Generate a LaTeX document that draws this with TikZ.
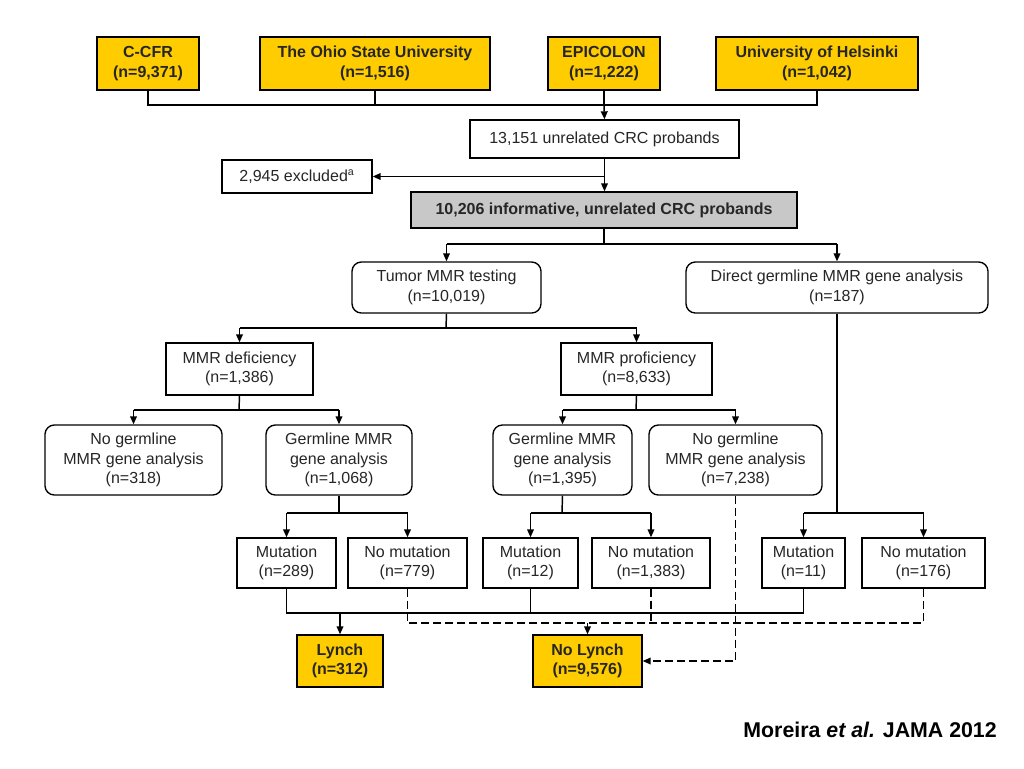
\documentclass[tikz,border=0pt]{standalone}
\usepackage{fontspec}
\setmainfont{Liberation Sans}
\usetikzlibrary{arrows.meta}
\definecolor{gold}{RGB}{255,204,0}
\definecolor{gbox}{RGB}{200,200,200}
\newcommand\B[7]{\node[#2, minimum width={(#5-#3)*0.75pt}, minimum height={(#6-#4)*0.75pt}] (#1) at ({(#3+#5)/2},{(#4+#6)/2}) {#7};}
\begin{document}
\begin{tikzpicture}[x=0.75pt,y=-0.75pt,
  base/.style={draw=black,line width=1pt,inner sep=0pt,align=center,font=\fontsize{12}{14.5}\selectfont,text=black!85},
  gold/.style={base,fill=gold,font=\fontsize{12}{14.5}\selectfont\bfseries},
  sq/.style={base,fill=white},
  rd/.style={base,fill=white,rounded corners=7pt},
  gray/.style={base,fill=gbox,font=\fontsize{12}{14.5}\selectfont\bfseries},
  ln/.style={line width=1.1pt},
  ar/.style={ln,-{Triangle[length=6pt,width=5pt]}},
  da/.style={dash pattern=on 6pt off 3pt}]
\useasboundingbox (0,0) rectangle (1024,768);
\B{ccfr}{gold}{97}{37}{199}{90}{C-CFR\\(n=9,371)}
\B{ohio}{gold}{260}{37}{490}{90}{The Ohio State University\\(n=1,516)}
\B{epi}{gold}{548}{37}{660}{90}{EPICOLON\\(n=1,222)}
\B{hel}{gold}{716}{37}{918}{90}{University of Helsinki\\(n=1,042)}
\B{n13}{sq}{470}{120}{739}{158}{13,151 unrelated CRC probands}
\B{excl}{sq}{222}{160}{372}{193}{2,945 excluded\textsuperscript{a}}
\B{n10}{gray}{411}{192}{797}{228}{10,206 informative, unrelated CRC probands}
\B{tum}{rd}{352}{262}{541}{313}{Tumor MMR testing\\(n=10,019)}
\B{dir}{rd}{686}{262}{988}{313}{Direct germline MMR gene analysis\\(n=187)}
\B{def}{sq}{166}{343}{313}{395}{MMR deficiency\\(n=1,386)}
\B{prof}{sq}{561}{343}{712}{395}{MMR proficiency\\(n=8,633)}
\B{ng1}{rd}{45}{425}{222}{495}{No germline\\MMR gene analysis\\(n=318)}
\B{g1}{rd}{266}{425}{412}{495}{Germline MMR\\gene analysis\\(n=1,068)}
\B{g2}{rd}{493}{425}{632}{495}{Germline MMR\\gene analysis\\(n=1,395)}
\B{ng2}{rd}{649}{425}{822}{495}{No germline\\MMR gene analysis\\(n=7,238)}
\B{m1}{sq}{237}{538}{336}{588}{Mutation\\(n=289)}
\B{nm1}{sq}{348}{538}{467}{588}{No mutation\\(n=779)}
\B{m2}{sq}{483}{538}{578}{588}{Mutation\\(n=12)}
\B{nm2}{sq}{592}{538}{710}{588}{No mutation\\(n=1,383)}
\B{m3}{sq}{762}{538}{845}{588}{Mutation\\(n=11)}
\B{nm3}{sq}{862}{538}{985}{588}{No mutation\\(n=176)}
\B{lyn}{gold}{297}{635}{383}{687}{Lynch\\(n=312)}
\B{nol}{gold}{533}{635}{642}{687}{No Lynch\\(n=9,576)}
\node[anchor=base east,inner sep=0pt,font=\fontsize{16}{18}\selectfont\bfseries] (title) at (997,737) {Moreira \textit{et al.} JAMA 2012};
% top
\coordinate (j1) at (604,105);
\draw[ln] (ccfr.south) |- (hel.south |- j1) -- (hel.south);
\draw[ln] (ohio.south) -- (ohio.south |- j1);
\draw[ln] (epi.south) -- (epi.south |- j1);
\draw[ar] (j1) -- (n13.north);
\draw[ar] (n13.south) -- (n13.south |- n10.north);
\draw[ar] (n13.south |- excl.east) -- (excl.east);
% split 10206
\coordinate (j2) at (604,244);
\draw[ln] (n10.south) -- (j2);
\draw[ar] (tum.north |- j2) -- (tum.north);
\draw[ar] (dir.north |- j2) -- (dir.north);
\draw[ln] (tum.north |- j2) -- (dir.north |- j2);
% tumor
\coordinate (j3) at (446,328);
\draw[ln] (tum.south) -- (j3);
\draw[ln] (def.north |- j3) -- (prof.north |- j3);
\draw[ar] (def.north |- j3) -- (def.north);
\draw[ar] (prof.north |- j3) -- (prof.north);
% def / prof
\coordinate (j4) at (239,410);
\draw[ln] (def.south) -- (j4);
\draw[ln] (ng1.north |- j4) -- (g1.north |- j4);
\draw[ar] (ng1.north |- j4) -- (ng1.north);
\draw[ar] (g1.north |- j4) -- (g1.north);
\coordinate (j5) at (636,410);
\draw[ln] (prof.south) -- (j5);
\draw[ln] (g2.north |- j5) -- (ng2.north |- j5);
\draw[ar] (g2.north |- j5) -- (g2.north);
\draw[ar] (ng2.north |- j5) -- (ng2.north);
% germline splits
\coordinate (j6) at (339,513);
\draw[ln] (g1.south) -- (j6);
\draw[ln] (m1.north |- j6) -- (nm1.north |- j6);
\draw[ar] (m1.north |- j6) -- (m1.north);
\draw[ar] (nm1.north |- j6) -- (nm1.north);
\coordinate (j7) at (562,513);
\draw[ln] (g2.south) -- (j7);
\draw[ln] (m2.north |- j7) -- (nm2.north |- j7);
\draw[ar] (m2.north |- j7) -- (m2.north);
\draw[ar] (nm2.north |- j7) -- (nm2.north);
\coordinate (j8) at (837,513);
\draw[ln] (dir.south) -- (j8);
\draw[ln] (m3.north |- j8) -- (nm3.north |- j8);
\draw[ar] (m3.north |- j8) -- (m3.north);
\draw[ar] (nm3.north |- j8) -- (nm3.north);
% bottom buses
\coordinate (bs) at (340,613);
\draw[ln] (m1.south) |- (m3.south |- bs) -- (m3.south);
\draw[ln] (m2.south) -- (m2.south |- bs);
\draw[ar] (lyn.north |- bs) -- (lyn.north);
\coordinate (bd) at (588,623);
\draw[ln,da] (nm1.south) |- (nm3.south |- bd) -- (nm3.south);
\draw[ln,da] (nm2.south) -- (nm2.south |- bd);
\draw[ar,da] (nol.north |- bd) -- (nol.north);
\draw[ar,da] (ng2.south) |- (nol.east);
\end{tikzpicture}
\end{document}
